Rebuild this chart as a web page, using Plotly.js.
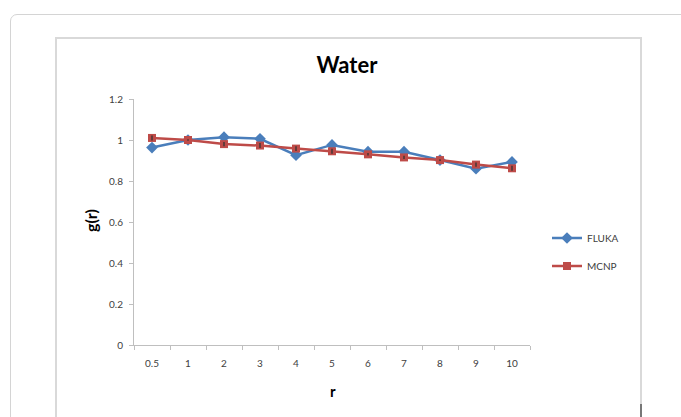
<!DOCTYPE html>
<html>
<head>
<meta charset="utf-8">
<script src="https://cdn.plot.ly/plotly-3.0.1.min.js"></script>
<style>
  html, body { margin: 0; padding: 0; background: #ffffff; width: 681px; height: 417px; overflow: hidden; }
  #card { position: absolute; left: 10px; top: 14px; width: 700px; height: 420px; border: 1px solid #d4d4d4; border-radius: 7px; box-sizing: border-box; }
  #frame { position: absolute; left: 55px; top: 37px; width: 587px; height: 400px; border: 2px solid #d9d9d9; box-sizing: border-box; }
  #mark { position: absolute; left: 640px; top: 404px; width: 2px; height: 13px; background: #777; }
  #chart { position: absolute; left: 0; top: 0; width: 681px; height: 417px; }
</style>
</head>
<body>
<div id="card"></div>
<div id="frame"></div>
<div id="mark"></div>
<div id="chart"></div>
<script>
const categories = ["0.5", "1", "2", "3", "4", "5", "6", "7", "8", "9", "10"];
const fluka = [0.963, 1.0, 1.014, 1.006, 0.926, 0.976, 0.943, 0.943, 0.902, 0.860, 0.893];
const mcnp  = [1.010, 1.0, 0.980, 0.973, 0.958, 0.945, 0.930, 0.915, 0.902, 0.880, 0.862];
const mcnpErr = [0.012, 0.004, 0.010, 0.012, 0.012, 0.012, 0.006, 0.008, 0.004, 0.010, 0.012];
const yTicks = [0, 0.2, 0.4, 0.6, 0.8, 1, 1.2];
const yTickText = ["0", "0.2", "0.4", "0.6", "0.8", "1", "1.2"];

const FONT = "Lato, 'Open Sans', 'Liberation Sans', sans-serif";

const traces = [
  {
    x: categories, y: fluka, name: "FLUKA", type: "scatter", mode: "lines+markers",
    line: { color: "#4a7ebb", width: 2.5 },
    marker: { symbol: "diamond", size: 9, color: "#4a7ebb" },
    legend: "legend"
  },
  {
    x: categories, y: mcnp, name: "MCNP", type: "scatter", mode: "lines+markers",
    line: { color: "#be4b48", width: 2.5 },
    marker: { symbol: "square", size: 8, color: "#be4b48" },
    legend: "legend2"
  },
  {
    x: categories, y: mcnp, name: "err", type: "scatter", mode: "markers",
    marker: { size: 1, opacity: 0 }, showlegend: false, hoverinfo: "skip",
    error_y: { type: "data", array: mcnpErr, visible: true, color: "#333333", thickness: 1.3, width: 0 }
  }
];

const layout = {
  width: 681, height: 417,
  margin: { l: 134, r: 151, t: 99, b: 72, pad: 0 },
  paper_bgcolor: "rgba(0,0,0,0)",
  plot_bgcolor: "rgba(0,0,0,0)",
  font: { family: FONT, size: 10, color: "#404040" },
  title: {
    text: "<b>Water</b>",
    font: { family: FONT, size: 22, color: "#000000" },
    xref: "container", x: 347 / 681, xanchor: "center",
    yref: "container", y: 1 - 65 / 417, yanchor: "middle"
  },
  xaxis: {
    type: "category", categoryorder: "array", categoryarray: categories,
    range: [-0.5, 10.5], autorange: false,
    showgrid: false, zeroline: false,
    showline: true, linecolor: "#bfbfbf", linewidth: 1,
    ticks: "outside", tickson: "boundaries", ticklen: 4, tickcolor: "#bfbfbf",
    tickfont: { family: FONT, size: 10, color: "#404040" },
    ticklabelstandoff: 9,
    fixedrange: true
  },
  yaxis: {
    range: [0, 1.2], tickvals: yTicks, ticktext: yTickText,
    showgrid: false, zeroline: false,
    showline: true, linecolor: "#bfbfbf", linewidth: 1,
    ticks: "outside", ticklen: 4, tickcolor: "#bfbfbf",
    tickfont: { family: FONT, size: 10, color: "#404040" },
    ticklabelstandoff: 4,
    fixedrange: true
  },
  legend: {
    x: (547 - 134) / 396, xanchor: "left", y: (345 - 238) / 246, yanchor: "middle",
    font: { family: FONT, size: 10, color: "#404040" },
    bgcolor: "rgba(0,0,0,0)", itemwidth: 30, tracegroupgap: 0
  },
  legend2: {
    x: (547 - 134) / 396, xanchor: "left", y: (345 - 266) / 246, yanchor: "middle",
    font: { family: FONT, size: 10, color: "#404040" },
    bgcolor: "rgba(0,0,0,0)", itemwidth: 30, tracegroupgap: 0
  },
  annotations: [
    {
      text: "<b>g(r)</b>", textangle: -90, showarrow: false,
      xref: "paper", yref: "paper",
      x: (90 - 134) / 396, y: (345 - 221) / 246, xanchor: "center", yanchor: "middle",
      font: { family: FONT, size: 16, color: "#000000" }
    },
    {
      text: "<b>r</b>", showarrow: false,
      xref: "paper", yref: "paper",
      x: (333 - 134) / 396, y: (345 - 391) / 246, xanchor: "center", yanchor: "middle",
      font: { family: FONT, size: 15, color: "#000000" }
    }
  ],
  showlegend: true
};

Plotly.newPlot("chart", traces, layout, { displayModeBar: false, staticPlot: true });
</script>
</body>
</html>
